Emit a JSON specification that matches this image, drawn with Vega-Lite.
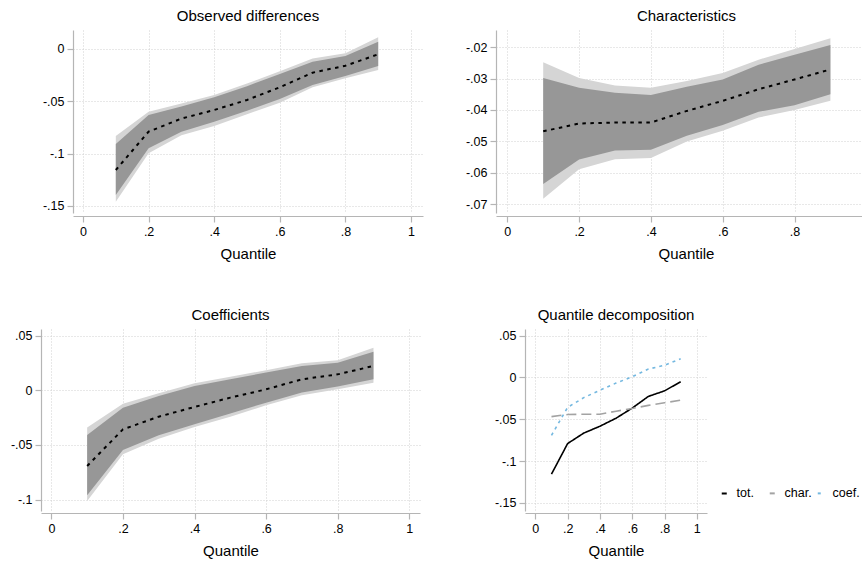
{
  "$schema": "https://vega.github.io/schema/vega-lite/v6.json",
  "padding": {"left": 0, "top": 9, "right": 0, "bottom": 0},
  "background": "white",
  "datasets": {
    "qr": [
      {"series": "tot.", "q": 0.1, "est": -0.1156, "lo90": -0.1395, "hi90": -0.0908, "lo95": -0.1459, "hi95": -0.0831},
      {"series": "tot.", "q": 0.2, "est": -0.0790, "lo90": -0.0949, "hi90": -0.0631, "lo95": -0.0997, "hi95": -0.0599},
      {"series": "tot.", "q": 0.3, "est": -0.0665, "lo90": -0.0790, "hi90": -0.0550, "lo95": -0.0825, "hi95": -0.0520},
      {"series": "tot.", "q": 0.4, "est": -0.0583, "lo90": -0.0694, "hi90": -0.0462, "lo95": -0.0736, "hi95": -0.0440},
      {"series": "tot.", "q": 0.5, "est": -0.0487, "lo90": -0.0590, "hi90": -0.0355, "lo95": -0.0624, "hi95": -0.0330},
      {"series": "tot.", "q": 0.6, "est": -0.0366, "lo90": -0.0478, "hi90": -0.0239, "lo95": -0.0513, "hi95": -0.0213},
      {"series": "tot.", "q": 0.7, "est": -0.0226, "lo90": -0.0344, "hi90": -0.0121, "lo95": -0.0366, "hi95": -0.0090},
      {"series": "tot.", "q": 0.8, "est": -0.0160, "lo90": -0.0258, "hi90": -0.0067, "lo95": -0.0280, "hi95": -0.0041},
      {"series": "tot.", "q": 0.9, "est": -0.0051, "lo90": -0.0162, "hi90": 0.0070, "lo95": -0.0201, "hi95": 0.0112},
      {"series": "char.", "q": 0.1, "est": -0.0468, "lo90": -0.0636, "hi90": -0.0298, "lo95": -0.0683, "hi95": -0.0248},
      {"series": "char.", "q": 0.2, "est": -0.0443, "lo90": -0.0558, "hi90": -0.0329, "lo95": -0.0589, "hi95": -0.0298},
      {"series": "char.", "q": 0.3, "est": -0.0440, "lo90": -0.0529, "hi90": -0.0345, "lo95": -0.0557, "hi95": -0.0322},
      {"series": "char.", "q": 0.4, "est": -0.0440, "lo90": -0.0527, "hi90": -0.0352, "lo95": -0.0553, "hi95": -0.0329},
      {"series": "char.", "q": 0.5, "est": -0.0403, "lo90": -0.0482, "hi90": -0.0326, "lo95": -0.0500, "hi95": -0.0308},
      {"series": "char.", "q": 0.6, "est": -0.0371, "lo90": -0.0448, "hi90": -0.0303, "lo95": -0.0466, "hi95": -0.0282},
      {"series": "char.", "q": 0.7, "est": -0.0334, "lo90": -0.0406, "hi90": -0.0256, "lo95": -0.0424, "hi95": -0.0240},
      {"series": "char.", "q": 0.8, "est": -0.0303, "lo90": -0.0385, "hi90": -0.0224, "lo95": -0.0400, "hi95": -0.0206},
      {"series": "char.", "q": 0.9, "est": -0.0271, "lo90": -0.0350, "hi90": -0.0193, "lo95": -0.0371, "hi95": -0.0172},
      {"series": "coef.", "q": 0.1, "est": -0.0692, "lo90": -0.0960, "hi90": -0.0409, "lo95": -0.1012, "hi95": -0.0341},
      {"series": "coef.", "q": 0.2, "est": -0.0357, "lo90": -0.0546, "hi90": -0.0159, "lo95": -0.0585, "hi95": -0.0122},
      {"series": "coef.", "q": 0.3, "est": -0.0241, "lo90": -0.0412, "hi90": -0.0052, "lo95": -0.0442, "hi95": -0.0027},
      {"series": "coef.", "q": 0.4, "est": -0.0152, "lo90": -0.0311, "hi90": 0.0040, "lo95": -0.0335, "hi95": 0.0064},
      {"series": "coef.", "q": 0.5, "est": -0.0067, "lo90": -0.0213, "hi90": 0.0101, "lo95": -0.0241, "hi95": 0.0125},
      {"series": "coef.", "q": 0.6, "est": 0.0009, "lo90": -0.0113, "hi90": 0.0162, "lo95": -0.0137, "hi95": 0.0183},
      {"series": "coef.", "q": 0.7, "est": 0.0101, "lo90": -0.0021, "hi90": 0.0223, "lo95": -0.0046, "hi95": 0.0247},
      {"series": "coef.", "q": 0.8, "est": 0.0146, "lo90": 0.0034, "hi90": 0.0253, "lo95": 0.0009, "hi95": 0.0274},
      {"series": "coef.", "q": 0.9, "est": 0.0223, "lo90": 0.0101, "hi90": 0.0354, "lo95": 0.0070, "hi95": 0.0390}
    ]
  },
  "vconcat": [
    {
      "spacing": 0,
      "hconcat": [
        {
          "width": 1, "height": 183,
          "data": {"values": []},
          "mark": "point"
        },
        {
          "width": 350, "height": 183,
          "title": {"text": "Observed differences"},
          "data": {"name": "qr"},
          "transform": [{"filter": "datum.series === 'tot.'"}],
          "encoding": {
            "x": {"field": "q", "type": "quantitative", "title": "Quantile",
              "scale": {"domain": [-0.0305, 1.0366], "nice": false, "zero": false},
              "axis": {"values": [0, 0.2, 0.4, 0.6, 0.8, 1], "offset": 3}}
          },
          "layer": [
            {"mark": {"type": "area", "color": "#d5d5d5"},
             "encoding": {"y": {"field": "lo95", "type": "quantitative", "title": null,
                "scale": {"domain": [-0.1567, 0.01815], "nice": false, "zero": false},
                "axis": {"values": [-0.15, -0.1, -0.05, 0], "minExtent": 30, "maxExtent": 30}},
              "y2": {"field": "hi95"}}},
            {"mark": {"type": "area", "color": "#979797"},
             "encoding": {"y": {"field": "lo90", "type": "quantitative", "title": null}, "y2": {"field": "hi90"}}},
            {"mark": {"type": "line", "color": "#000000", "strokeWidth": 2, "strokeDash": [3.5, 4.5]},
             "encoding": {"y": {"field": "est", "type": "quantitative", "title": null}}}
          ]
        },
        {
          "width": 367, "height": 183,
          "title": {"text": "Characteristics", "dx": 7},
          "data": {"name": "qr"},
          "transform": [{"filter": "datum.series === 'char.'"}],
          "encoding": {
            "x": {"field": "q", "type": "quantitative", "title": "Quantile",
              "scale": {"domain": [-0.0315, 0.9908], "nice": false, "zero": false},
              "axis": {"values": [0, 0.2, 0.4, 0.6, 0.8], "offset": 3, "titleX": 190}}
          },
          "layer": [
            {"mark": {"type": "area", "color": "#d5d5d5"},
             "encoding": {"y": {"field": "lo95", "type": "quantitative", "title": null,
                "scale": {"domain": [-0.0728, -0.01454], "nice": false, "zero": false},
                "axis": {"values": [-0.07, -0.06, -0.05, -0.04, -0.03, -0.02], "minExtent": 73, "maxExtent": 73}},
              "y2": {"field": "hi95"}}},
            {"mark": {"type": "area", "color": "#979797"},
             "encoding": {"y": {"field": "lo90", "type": "quantitative", "title": null}, "y2": {"field": "hi90"}}},
            {"mark": {"type": "line", "color": "#000000", "strokeWidth": 2, "strokeDash": [3.5, 4.5]},
             "encoding": {"y": {"field": "est", "type": "quantitative", "title": null}}}
          ]
        }
      ]
    },
    {
      "spacing": 0,
      "resolve": {"scale": {"color": "independent", "strokeDash": "independent"}, "legend": {"color": "independent", "strokeDash": "independent"}},
      "hconcat": [
        {
          "width": 379, "height": 182,
          "title": {"text": "Coefficients"},
          "data": {"name": "qr"},
          "transform": [{"filter": "datum.series === 'coef.'"}],
          "encoding": {
            "x": {"field": "q", "type": "quantitative", "title": "Quantile",
              "scale": {"domain": [-0.029, 1.03], "nice": false, "zero": false},
              "axis": {"values": [0, 0.2, 0.4, 0.6, 0.8, 1], "offset": 2}}
          },
          "layer": [
            {"mark": {"type": "area", "color": "#d5d5d5"},
             "encoding": {"y": {"field": "lo95", "type": "quantitative", "title": null,
                "scale": {"domain": [-0.1104, 0.0561], "nice": false, "zero": false},
                "axis": {"values": [-0.1, -0.05, 0, 0.05], "minExtent": 41, "maxExtent": 41}},
              "y2": {"field": "hi95"}}},
            {"mark": {"type": "area", "color": "#979797"},
             "encoding": {"y": {"field": "lo90", "type": "quantitative", "title": null}, "y2": {"field": "hi90"}}},
            {"mark": {"type": "line", "color": "#000000", "strokeWidth": 2, "strokeDash": [3.5, 4.5]},
             "encoding": {"y": {"field": "est", "type": "quantitative", "title": null}}}
          ]
        },
        {
          "width": 182, "height": 182,
          "title": {"text": "Quantile decomposition"},
          "data": {"name": "qr"},
          "mark": {"type": "line", "strokeWidth": 1.6},
          "encoding": {
            "x": {"field": "q", "type": "quantitative", "title": "Quantile",
              "scale": {"domain": [-0.064, 1.063], "nice": false, "zero": false},
              "axis": {"values": [0, 0.2, 0.4, 0.6, 0.8, 1], "offset": 2}},
            "y": {"field": "est", "type": "quantitative", "title": null,
              "scale": {"domain": [-0.1597, 0.058], "nice": false, "zero": false},
              "axis": {"values": [-0.15, -0.1, -0.05, 0, 0.05], "minExtent": 105, "maxExtent": 105}},
            "color": {"field": "series", "type": "nominal", "title": null,
              "scale": {"domain": ["tot.", "char.", "coef."], "range": ["#000000", "#a3a3a3", "#74b8e0"]},
              "legend": {"orient": "none", "legendX": 193, "legendY": 158, "direction": "horizontal", "gridAlign": "all", "columnPadding": 1}},
            "strokeDash": {"field": "series", "type": "nominal", "title": null,
              "scale": {"domain": ["tot.", "char.", "coef."], "range": [[1, 0], [10, 5], [3, 4]]},
              "legend": {"orient": "none", "legendX": 193, "legendY": 158, "direction": "horizontal", "gridAlign": "all", "columnPadding": 1}}
          }
        }
      ]
    }
  ],
  "spacing": 46,
  "config": {
    "font": "Liberation Sans",
    "view": {"stroke": null},
    "axis": {
      "grid": true, "gridColor": "#d0d0d0", "gridDash": [1, 2], "gridWidth": 1,
      "domainColor": "#b5b5b5", "domainWidth": 1.2, "tickColor": "#b5b5b5", "tickSize": 6, "tickWidth": 1.2,
      "tickCount": 20,
      "labelColor": "#000000", "labelFontSize": 12.5, "labelPadding": 3, "labelOverlap": false, "labelFlush": false,
      "titleColor": "#000000", "titleFontSize": 15, "titleFontWeight": "normal", "titlePadding": 9,
      "labelExpr": "datum.value == 0 ? '0' : (datum.value < 0 ? '-' : '') + replace(format(abs(datum.value), '~g'), regexp('^0'), '')"
    },
    "title": {"fontSize": 15, "fontWeight": "normal", "color": "#000000", "offset": 6, "anchor": "middle"},
    "legend": {"symbolType": "stroke", "symbolSize": 25, "symbolStrokeWidth": 2, "labelFontSize": 12.5, "labelColor": "#000000", "labelOffset": 6}
  }
}
